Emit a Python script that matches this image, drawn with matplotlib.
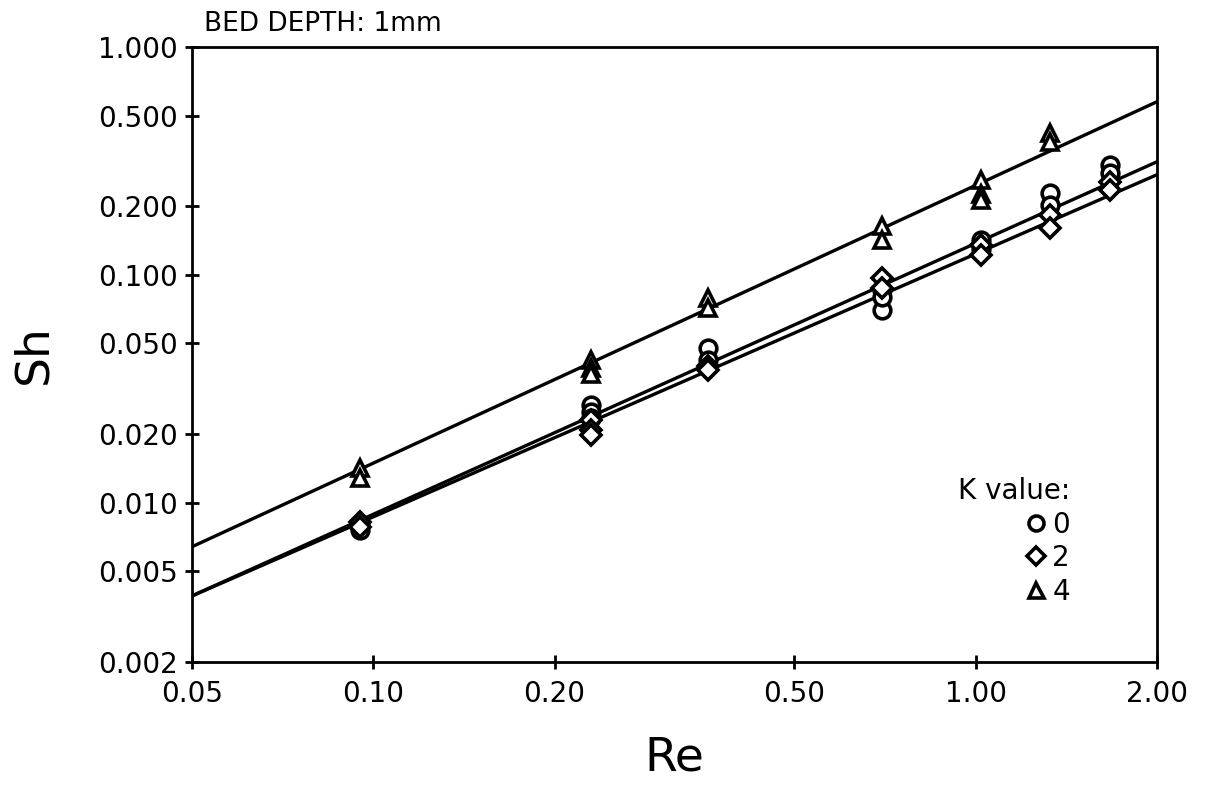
import matplotlib.pyplot as plt
import numpy as np

# Re values of the measurement clusters
re_k0 = [0.095, 0.095, 0.23, 0.23, 0.23, 0.36, 0.36, 0.70, 0.70, 0.70, 1.02, 1.02, 1.33, 1.33, 1.67, 1.67]
sh_k0 = [0.0080, 0.0076, 0.0269, 0.0251, 0.0235, 0.0478, 0.0424, 0.086, 0.0702, 0.080, 0.1425, 0.130, 0.229, 0.203, 0.303, 0.280]

re_k2 = [0.095, 0.095, 0.23, 0.23, 0.23, 0.36, 0.36, 0.70, 0.70, 1.02, 1.02, 1.33, 1.33, 1.67, 1.67]
sh_k2 = [0.0082, 0.0078, 0.0231, 0.0209, 0.0198, 0.0400, 0.0383, 0.097, 0.088, 0.135, 0.122, 0.183, 0.161, 0.256, 0.236]

re_k4 = [0.095, 0.095, 0.23, 0.23, 0.23, 0.36, 0.36, 0.70, 0.70, 1.02, 1.02, 1.02, 1.33, 1.33]
sh_k4 = [0.0142, 0.0129, 0.0424, 0.0390, 0.0368, 0.0793, 0.0716, 0.164, 0.1425, 0.261, 0.226, 0.213, 0.420, 0.383]

# power-law fits Sh = a * Re^b
fit_a = {'0': 0.1375, '2': 0.1236, '4': 0.247}
fit_b = {'0': 1.189, '2': 1.154, '4': 1.219}

xticks = [0.05, 0.10, 0.20, 0.50, 1.00, 2.00]
xlabels = ['0.05', '0.10', '0.20', '0.50', '1.00', '2.00']
yticks = [0.002, 0.005, 0.010, 0.020, 0.050, 0.100, 0.200, 0.500, 1.000]
ylabels = ['0.002', '0.005', '0.010', '0.020', '0.050', '0.100', '0.200', '0.500', '1.000']

fig = plt.figure(figsize=(12.05, 8.10), dpi=100)
ax = fig.add_axes([0.1593, 0.1827, 0.8008, 0.7593])
ax.set_xscale('log')
ax.set_yscale('log')
ax.set_xlim(0.05, 2.0)
ax.set_ylim(0.002, 1.0)

re_line = np.array([0.05, 2.0])
for k in ['0', '2', '4']:
    ax.plot(re_line, fit_a[k] * re_line ** fit_b[k], color='black', lw=2.4, zorder=2)

mk = dict(linestyle='none', markerfacecolor='white', markeredgecolor='black',
          markersize=12, markeredgewidth=2.6, zorder=3)
h0, = ax.plot(re_k0, sh_k0, marker='o', **mk)
h2, = ax.plot(re_k2, sh_k2, marker='D', **dict(mk, markersize=10))
h4, = ax.plot(re_k4, sh_k4, marker='^', **mk)

ax.set_xticks(xticks)
ax.set_xticklabels(xlabels)
ax.set_yticks(yticks)
ax.set_yticklabels(ylabels)
ax.minorticks_off()
ax.tick_params(direction='inout', length=10, width=2, labelsize=20)
ax.tick_params(axis='x', pad=8)
ax.tick_params(axis='y', pad=5)
for s in ax.spines.values():
    s.set_linewidth(2)

ax.set_xlabel('Re', fontsize=34, labelpad=20)
ax.set_ylabel('Sh', fontsize=34, labelpad=30)
ax.text(0.012, 1.016, 'BED DEPTH: 1mm', transform=ax.transAxes, fontsize=19,
        ha='left', va='bottom')

leg = ax.legend([h0, h2, h4], ['0', '2', '4'], title='K value:', loc='lower right',
                bbox_to_anchor=(0.93, 0.06), frameon=False, fontsize=20,
                title_fontsize=20, handlelength=0.8, handletextpad=0.2,
                labelspacing=0.2, markerscale=0.9, borderpad=0.2)
leg._legend_box.align = 'right'

fig.savefig('out.png', dpi=100)
